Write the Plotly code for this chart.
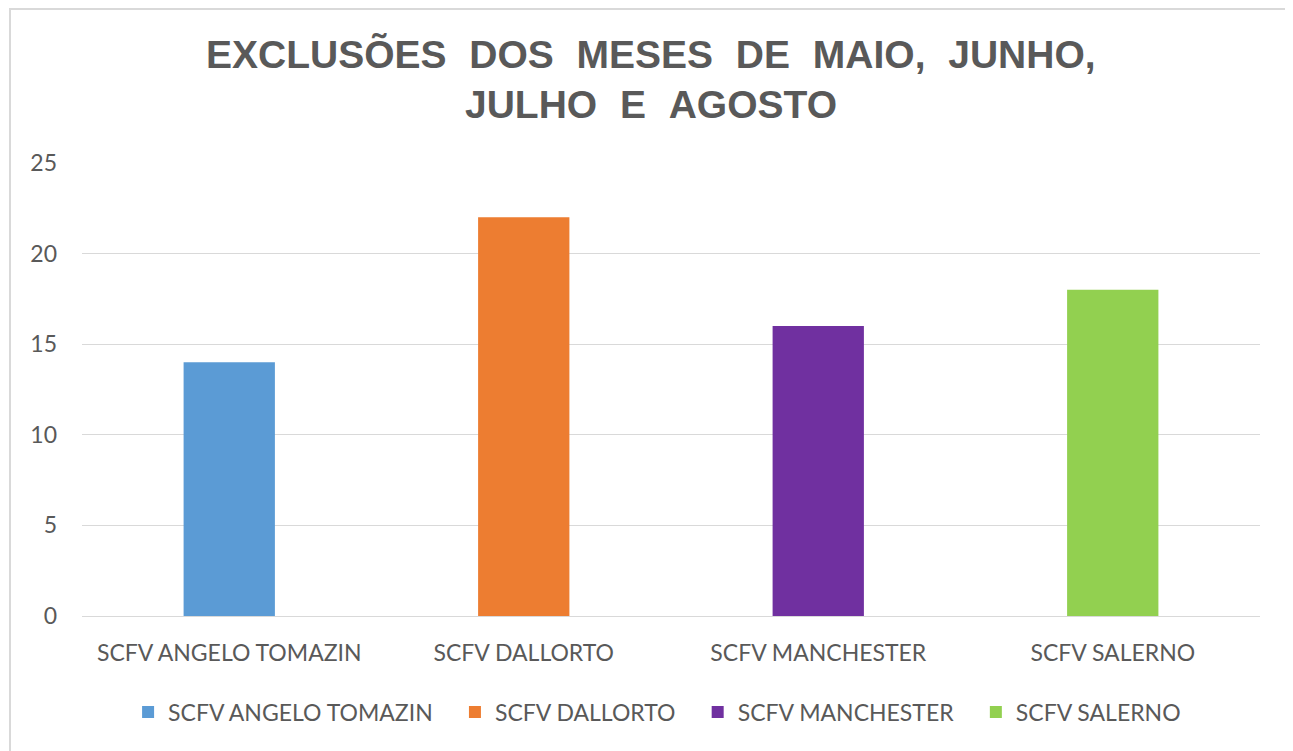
import plotly.graph_objects as go

categories = ["SCFV ANGELO TOMAZIN", "SCFV DALLORTO", "SCFV MANCHESTER", "SCFV SALERNO"]
values = [14, 22, 16, 18]
colors = ["#5B9BD5", "#ED7D31", "#7030A0", "#92D050"]
y_ticks = [0, 5, 10, 15, 20, 25]
title_lines = ["EXCLUSÕES DOS MESES DE MAIO, JUNHO,", "JULHO E AGOSTO"]

# page has an 8px body margin; plot area target (screen): x 82-1260, y 163-616
L, R, T, B = 74, 41, 155, 143
W, H = 1293, 751
PW, PH = W - L - R, H - T - B


def px_x(fx):
    return (fx - L) / PW


def px_y(fy):
    return (H - B - fy) / PH


fig = go.Figure()
n = len(categories)
for i, (cat, val, col) in enumerate(zip(categories, values, colors)):
    legend_name = cat + ("\u2003" if i < n - 1 else "")
    fig.add_trace(go.Bar(x=[cat], y=[val], name=legend_name,
                         marker=dict(color=col, line=dict(width=0)), width=0.31))

fig.update_layout(
    width=W, height=H,
    paper_bgcolor="white", plot_bgcolor="white",
    margin=dict(l=L, r=R, t=T, b=B),
    barmode="overlay",
    font=dict(family="Lato", size=23, color="#595959"),
    legend=dict(orientation="h", x=0.502, xanchor="center", xref="container",
                y=1 - 704 / H, yanchor="middle", yref="container",
                font=dict(family="Lato", size=23, color="#595959"), itemwidth=30),
    showlegend=True,
)
for i, line in enumerate(title_lines):
    fig.add_annotation(text=line.replace(" ", "\u2002\u200a"), xref="paper", yref="paper",
                       x=px_x(643), y=px_y(46 + 49 * i + 1), xanchor="center", yanchor="middle",
                       showarrow=False,
                       font=dict(family="Liberation Sans", size=39, color="#595959", weight="bold"))
fig.update_yaxes(range=[0, 25], tickvals=y_ticks, showgrid=True, gridcolor="#D9D9D9", gridwidth=1,
                 zeroline=False, showline=False, ticks="", ticklabelstandoff=24,
                 tickfont=dict(family="Lato", size=23, color="#595959"))
fig.update_xaxes(showgrid=False, showline=True, linecolor="#D9D9D9", linewidth=1, ticks="",
                 ticklabelstandoff=16, tickfont=dict(family="Lato", size=23, color="#595959"))
fig.add_shape(type="rect", xref="paper", yref="paper",
              x0=px_x(2), x1=px_x(1284), y0=px_y(800), y1=px_y(1),
              line=dict(color="#D9D9D9", width=2), fillcolor="rgba(0,0,0,0)", layer="below")
fig.write_html("out.html")
